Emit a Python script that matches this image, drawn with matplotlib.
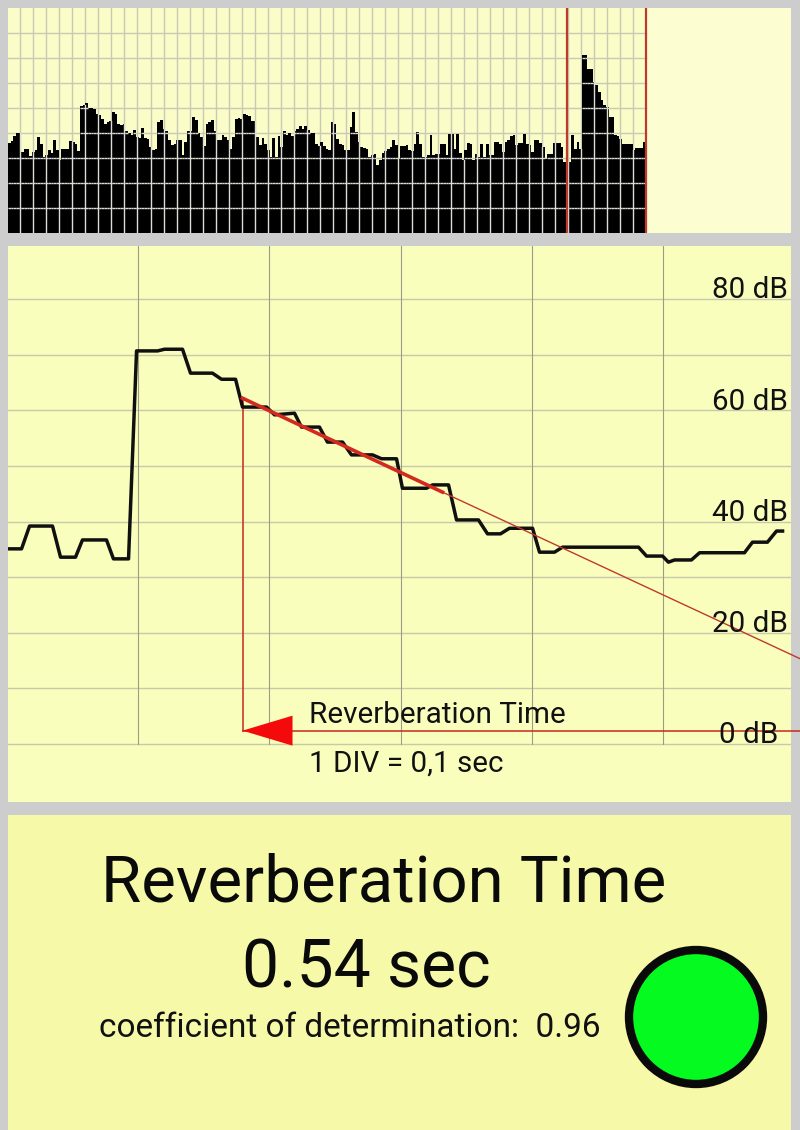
import numpy as np
import matplotlib
matplotlib.use('Agg')
import matplotlib.pyplot as plt
from matplotlib.patches import Circle, Polygon

plt.rcParams['font.family'] = ['Roboto', 'DejaVu Sans']

W, H = 800, 1130

# Envelope of the recording (top panel), one value per bar
env_a = [90, 92, 97, 100, 100, 81, 84, 84, 77, 81, 83, 96, 89, 76, 78, 83, 80, 93, 83, 73,
         84, 84, 84, 92, 91, 89, 82, 127, 128, 130, 125, 125, 124, 119, 118, 114, 109, 111, 112, 121,
         119, 109, 108, 109, 102, 100, 98, 103, 96, 95, 105, 95, 94, 86, 83, 84, 111, 113, 104, 102,
         93, 88, 89, 93, 93, 78, 91, 102, 102, 116, 113, 100, 96, 87, 109, 111, 113, 102, 93, 93,
         98, 96, 93, 84, 96, 114, 115, 114, 119, 118, 117, 112, 112, 96, 88, 95, 89, 83, 76, 95,
         76, 97, 86, 102, 98, 100, 97, 102, 104, 107, 104, 107, 103, 100, 100, 89, 87, 91, 87, 84, 83]
env_b = [111, 109, 94, 89, 88, 83, 83, 106, 121, 101, 91, 86, 85, 84, 76, 78, 79, 68, 73, 80,
         82, 84, 86, 93, 88, 74, 87, 87, 88, 83, 82, 89, 101, 89, 76, 76, 78, 98, 78, 79,
         79, 89, 89, 78, 99, 99, 84, 99, 80, 73, 83, 90, 89, 73, 79, 76, 89, 76, 89, 78,
         78, 91, 91, 89, 81, 91, 93, 97, 98, 88, 90, 90, 99, 89, 88, 81, 93, 93, 90, 86,
         74, 79, 79, 90, 90, 90, 86, 71, 71, 71, 98, 84, 91, 84, 178, 178, 164, 164, 151, 148,
         141, 133, 128, 126, 116, 116, 98, 97, 94, 89, 89, 89, 89, 83, 85, 85, 85, 91]
envelope = env_a + env_b
sel_start = 209  # bar where the analysed part starts

# Decay curve (middle panel): time in sec, level in dB
tiempo = [-0.0994, -0.0887, -0.0826, -0.0651, -0.0590, -0.0476, -0.0423, -0.0240, -0.0187, -0.0072,
          -0.0011, 0.0149, 0.0202, 0.0339, 0.0400, 0.0567, 0.0636, 0.0743, 0.0796, 0.0979,
          0.1040, 0.1192, 0.1245, 0.1382, 0.1443, 0.1558, 0.1626, 0.1786, 0.1855, 0.1969,
          0.2014, 0.2197, 0.2243, 0.2365, 0.2426, 0.2593, 0.2662, 0.2761, 0.2829, 0.3005,
          0.3058, 0.3172, 0.3233, 0.3812, 0.3873, 0.3995, 0.4040, 0.4086, 0.4215, 0.4277,
          0.4619, 0.4680, 0.4794, 0.4863, 0.4909]
nivel = [35.1, 35.1, 39.2, 39.2, 33.6, 33.6, 36.7, 36.7, 33.3, 33.3,
         70.7, 70.7, 71.0, 71.0, 66.7, 66.7, 65.6, 65.6, 60.6, 60.6,
         59.2, 59.5, 57.0, 57.0, 54.3, 54.3, 52.0, 52.0, 51.3, 51.3,
         46.0, 46.0, 46.6, 46.6, 40.3, 40.3, 37.8, 37.8, 38.8, 38.8,
         34.5, 34.5, 35.4, 35.4, 33.8, 33.8, 32.7, 33.1, 33.1, 34.4,
         34.4, 36.3, 36.3, 38.3, 38.3]

# Fit line: start, end of the thick part, end of the line
fit_t = [0.0796, 0.2319, 0.5046]
fit_db = [62.2, 45.3, 15.3]
rt_t = fit_t[0]
rt_db = 2.4

db_labels = ['80 dB', '60 dB', '40 dB', '20 dB', '0 dB']
db_values = [80, 60, 40, 20, 0]
titulo = 'Reverberation Time'
rt_texto = '0.54 sec'
coef_texto = 'coefficient of determination:  0.96'
div_texto = '1 DIV = 0,1 sec'


def panel(x0, y0, x1, y1):
    # ejes en coordenadas de pixel de la imagen
    ax = fig.add_axes([x0 / W, 1 - y1 / H, (x1 - x0) / W, (y1 - y0) / H])
    ax.set_xticks([])
    ax.set_yticks([])
    for s in ax.spines.values():
        s.set_visible(False)
    return ax


fig = plt.figure(figsize=(W / 100, H / 100), dpi=100, facecolor='#cdcdcd')

# Top panel
ax1 = panel(8, 8, 791, 233)
ax1.set_facecolor('#fbfdc9')
bar_w = 638 / len(envelope)
ax1.set_xlim(-0.5, -0.5 + 783 / bar_w)
ax1.set_ylim(0, 225)
ax1.axvspan(len(envelope) - 0.5, -0.5 + 783 / bar_w, color='#fdfdd2', lw=0, zorder=0)
ax1.bar(np.arange(len(envelope)), envelope, width=1.0, color='black', lw=0, zorder=2)
fin = len(envelope) - 0.5
env = np.array(envelope)
gris = '#c9c9b4'
blanco = '#dcdcd8'
# rejilla gris sobre el fondo, casi blanca encima de las barras
for i in range(1, 9):
    nivel_g = i * 25
    ax1.plot([-0.5, fin], [nivel_g, nivel_g], color=gris, lw=1, zorder=1)
    for k in np.where(env > nivel_g)[0]:
        ax1.plot([k - 0.5, k + 0.5], [nivel_g, nivel_g], color=blanco, lw=1, solid_capstyle='butt', zorder=3)
for i in range(48):
    xg = (12 + i * 13.05) / bar_w - 0.5
    if xg < fin:
        ax1.plot([xg, xg], [0, 225], color=gris, lw=1, zorder=1)
        ax1.plot([xg, xg], [0, env[int(round(xg))]], color=blanco, lw=1, zorder=3)
ax1.axvline(sel_start, color='#c0392b', lw=1.6, zorder=4)
ax1.axvline(fin, color='#c0392b', lw=1.6, zorder=4)

# Middle panel
ax2 = panel(8, 246, 791, 802)
ax2.set_facecolor('#fafebc')
ax2.set_xlim(-130 / 1313, 653 / 1313)
ax2.set_ylim(-58 / 5.56, 498 / 5.56)
for db in range(0, 90, 10):
    ax2.axhline(db, color='#c8c8aa', lw=1, zorder=1)
for i in range(5):
    ax2.plot([i * 0.1, i * 0.1], [0, 89.6], color='#9c9c86', lw=0.8, zorder=1)
ax2.plot(tiempo, nivel, color='#101010', lw=2.5, solid_joinstyle='round', zorder=3)
ax2.plot(fit_t[1:], fit_db[1:], color='#c0392b', lw=1, clip_on=False, zorder=4)
ax2.plot(fit_t[:2], fit_db[:2], color='#d42a1e', lw=2.6, zorder=4)
ax2.plot([rt_t, rt_t], [rt_db, fit_db[0]], color='#c8281e', lw=1.1, zorder=2)
ax2.plot([rt_t, fit_t[2]], [rt_db, rt_db], color='#c8281e', lw=1.1, clip_on=False, zorder=2)
ax2.add_patch(Polygon([(rt_t, rt_db), (rt_t + 50 / 1313, rt_db + 15 / 5.56), (rt_t + 50 / 1313, rt_db - 15 / 5.56)],
                      closed=True, facecolor='#f40a0a', edgecolor='none', zorder=5))
for lab, db in zip(db_labels, db_values):
    x_lab = 0.4949 if db > 0 else 0.4873
    ax2.text(x_lab, db + 1.6, lab, fontsize=21.3, ha='right', va='center', color='#111111', zorder=6)
ax2.text(0.1299, 5.2, titulo, fontsize=21.3, ha='left', va='center', color='#111111', zorder=6)
ax2.text(0.1299, -3.6, div_texto, fontsize=21.3, ha='left', va='center', color='#111111', zorder=6)

# Bottom panel
ax3 = panel(8, 815, 791, 1130)
ax3.set_facecolor('#f6f9a8')
ax3.set_xlim(8, 791)
ax3.set_ylim(1130, 815)
ax3.text(384, 883, titulo, fontsize=47, ha='center', va='center', color='#0a0a0a')
ax3.text(366, 969, rt_texto, fontsize=47.5, ha='center', va='center', color='#0a0a0a')
ax3.text(350, 1028, coef_texto, fontsize=24, ha='center', va='center', color='#111111')
ax3.add_patch(Circle((696, 1017), 67, facecolor='#05fb20', edgecolor='#0a0a0a', lw=6))

fig.savefig('out.png', dpi=100, facecolor=fig.get_facecolor())
